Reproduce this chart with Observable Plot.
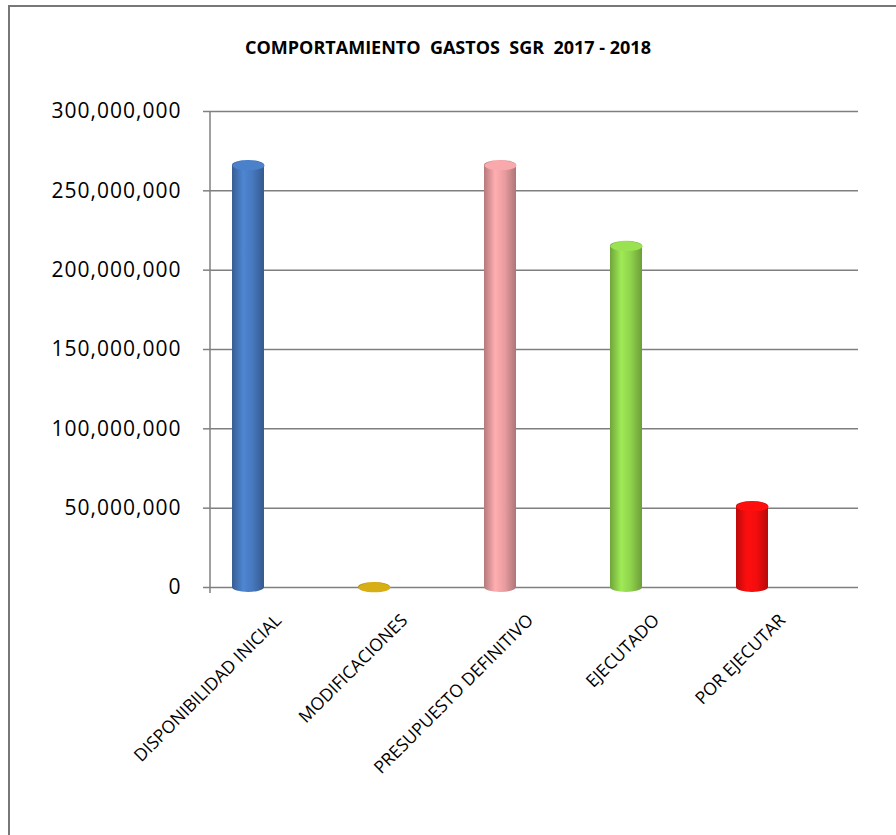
<!DOCTYPE html>
<html><head><meta charset="utf-8">
<script src="https://cdn.jsdelivr.net/npm/d3@7"></script>
<script src="https://cdn.jsdelivr.net/npm/@observablehq/plot@0.6"></script>
<style>
body{margin:0;background:#fff;}
#frame{position:absolute;left:8px;top:5px;width:900px;height:840px;border-top:2px solid #777;border-left:2px solid #777;}
#title{position:absolute;left:0;width:896px;top:35px;text-align:center;font:bold 18px "Open Sans";white-space:pre;color:#000;}
#chart{position:absolute;left:0;top:0;}
g[aria-label="y-axis tick label"] text{letter-spacing:1px;}
</style></head><body>
<div id="frame"></div>
<div id="title">COMPORTAMIENTO  GASTOS  SGR  2017 - 2018</div>
<div id="chart"></div>
<script>
const categories = ["DISPONIBILIDAD INICIAL", "MODIFICACIONES", "PRESUPUESTO DEFINITIVO", "EJECUTADO", "POR EJECUTAR"];
const values = [266000000, 0, 266000000, 215000000, 51000000];
const yTicks = [0, 50000000, 100000000, 150000000, 200000000, 250000000, 300000000];
const colors = ["#4678bd", "#c9a214", "#e89c9f", "#8fd24c", "#f20d0d"];

const data = categories.map((c, i) => ({category: c, value: values[i], i}));

const ellipse = {
  draw(ctx, size) {
    const rx = Math.sqrt(size / Math.PI), ry = rx * 0.3, k = 0.5523;
    ctx.moveTo(-rx, 0);
    ctx.bezierCurveTo(-rx, -ry * k, -rx * k, -ry, 0, -ry);
    ctx.bezierCurveTo(rx * k, -ry, rx, -ry * k, rx, 0);
    ctx.bezierCurveTo(rx, ry * k, rx * k, ry, 0, ry);
    ctx.bezierCurveTo(-rx * k, ry, -rx, ry * k, -rx, 0);
    ctx.closePath();
  }
};

const defsMark = () => {
  const defs = d3.create("svg:defs");
  colors.forEach((c, i) => {
    const g = defs.append("linearGradient").attr("id", "cyl" + i).attr("x1", 0).attr("x2", 1).attr("y1", 0).attr("y2", 0);
    const base = d3.color(c);
    g.append("stop").attr("offset", "0%").attr("stop-color", base.darker(0.7).formatHex());
    g.append("stop").attr("offset", "35%").attr("stop-color", base.brighter(0.3).formatHex());
    g.append("stop").attr("offset", "65%").attr("stop-color", base.formatHex());
    g.append("stop").attr("offset", "100%").attr("stop-color", base.darker(0.8).formatHex());
  });
  return defs.node();
};

const axisLine = (index, scales, values, dims) => {
  const line = d3.create("svg:line")
    .attr("x1", dims.marginLeft).attr("x2", dims.marginLeft)
    .attr("y1", dims.marginTop).attr("y2", dims.height - dims.marginBottom + 6)
    .attr("stroke", "#808080").attr("stroke-width", 1.5);
  return line.node();
};

const barMarks = data.map(d => Plot.barY([d], {
  x: "category", y: "value",
  fill: "url(#cyl" + d.i + ")",
  insetLeft: 47, insetRight: 47, insetTop: -5, insetBottom: -5,
  rx: 16, ry: 5
}));
const capMarks = data.map(d => Plot.dot([d], {
  x: "category", y: "value", r: 16, symbol: ellipse,
  fill: d3.color(colors[d.i]).brighter(0.2).formatHex(), stroke: "none"
}));

const chart = Plot.plot({
  width: 896, height: 835,
  marginLeft: 210, marginRight: 38, marginTop: 111, marginBottom: 248,
  style: {fontFamily: "'Open Sans', sans-serif", color: "#000", background: "transparent"},
  x: {domain: categories, range: [185, 815], padding: 0, label: null},
  y: {domain: [0, 300000000], label: null},
  marks: [
    defsMark,
    Plot.gridY(yTicks, {stroke: "#7f7f7f", strokeOpacity: 1, strokeWidth: 1.5}),
    axisLine,
    Plot.axisY({ticks: yTicks, tickFormat: d3.format(","), tickSize: 7, tickPadding: 22, fontSize: 21, stroke: "#808080", strokeWidth: 1.5, label: null}),
    Plot.axisX({tickRotate: -45, tickSize: 0, tickPadding: 30, dx: 30, fontSize: 17.5, label: null}),
    ...barMarks,
    ...capMarks
  ]
});
document.getElementById("chart").appendChild(chart);
</script>
</body></html>
